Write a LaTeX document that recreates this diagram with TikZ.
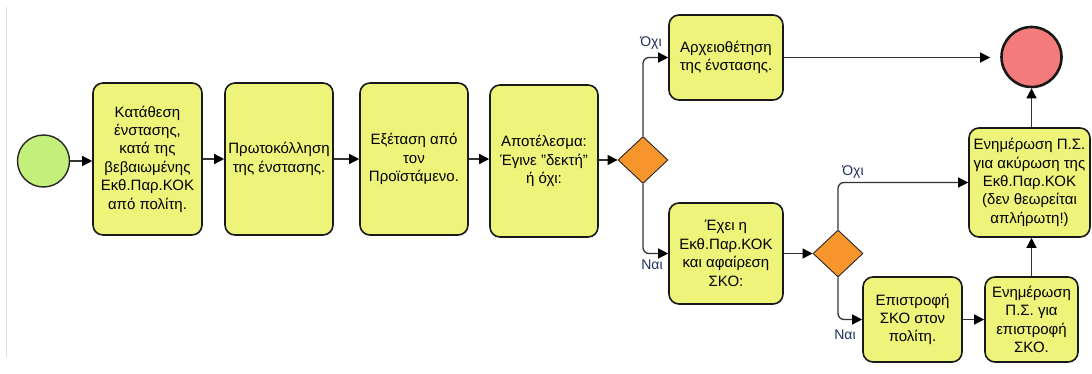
\documentclass[tikz,border=0pt]{standalone}
\usepackage{fontspec}
\setmainfont{Liberation Sans}
\usetikzlibrary{arrows.meta,shapes.geometric}
\definecolor{boxfill}{RGB}{238,243,122}
\definecolor{startfill}{RGB}{195,240,122}
\definecolor{endfill}{RGB}{244,123,123}
\definecolor{gatefill}{RGB}{247,150,45}
\definecolor{linec}{RGB}{51,51,51}
\definecolor{labc}{RGB}{30,50,90}
\tikzset{
  taskbox/.style={draw=black!90, line width=1.6pt, fill=boxfill, rounded corners=10pt,
    inner sep=0pt, align=center, font=\fontsize{15}{18.4}\selectfont},
  gate/.style={draw=black!85, line width=0.9pt, fill=gatefill, diamond, inner sep=0pt,
    minimum width=50pt, minimum height=47pt},
  flow/.style={draw=linec, line width=1.3pt, -{Triangle[length=10pt,width=10pt,color=black]}},
  lab/.style={text=labc, font=\fontsize{14}{16}\selectfont, inner sep=0pt}
}
\begin{document}
\begin{tikzpicture}[x=1pt,y=-1pt]
\useasboundingbox (0,0) rectangle (1092,374);
\fill[white] (0,0) rectangle (1092,374);
\draw[gray!25, line width=0.8pt] (6,7) -- (6,357);

\node[circle, draw=black!85, line width=1.4pt, fill=startfill, minimum size=52pt, inner sep=0pt] (start) at (43.5,161) {};
\node[circle, draw=black!90, line width=2.6pt, fill=endfill, minimum size=60pt, inner sep=0pt] (end) at (1031.5,57) {};

\node[taskbox, minimum width=109pt, minimum height=152pt] (b1) at (147.5,159) {Κατάθεση\\ένστασης,\\κατά της\\βεβαιωμένης\\Εκθ.Παρ.ΚΟΚ\\από πολίτη.};
\node[taskbox, minimum width=108pt, minimum height=152pt] (b2) at (279,159) {Πρωτοκόλληση\\της ένστασης.};
\node[taskbox, minimum width=108pt, minimum height=152pt] (b3) at (414,159) {Εξέταση από\\τον\\Προϊστάμενο.};
\node[taskbox, minimum width=108pt, minimum height=152pt] (b4) at (544,161) {Αποτέλεσμα:\\Έγινε "δεκτή"\\ή όχι:};
\node[gate] (d1) at (643,160) {};
\node[taskbox, minimum width=114pt, minimum height=85pt] (arch) at (726,57.5) {Αρχειοθέτηση\\της ένστασης.};
\node[taskbox, minimum width=114pt, minimum height=101pt] (exei) at (726,253.5) {Έχει η\\Εκθ.Παρ.ΚΟΚ\\και αφαίρεση\\ΣΚΟ:};
\node[gate] (d2) at (838,253.5) {};
\node[taskbox, minimum width=99pt, minimum height=85pt] (epi) at (912.5,319.5) {Επιστροφή\\ΣΚΟ στον\\πολίτη.};
\node[taskbox, minimum width=93pt, minimum height=85pt] (enh) at (1031.5,319.5) {Ενημέρωση\\Π.Σ. για\\επιστροφή\\ΣΚΟ.};
\node[taskbox, minimum width=121pt, minimum height=109pt] (upd) at (1029.5,182.5) {Ενημέρωση Π.Σ.\\για ακύρωση της\\Εκθ.Παρ.ΚΟΚ\\(δεν θεωρείται\\απλήρωτη!)};

\draw[flow] (start.east) -- (start.east -| b1.west);
\draw[flow] (b1.east) -- (b2.west);
\draw[flow] (b2.east) -- (b3.west);
\draw[flow] (b3.east) -- (b3.east -| b4.west);
\draw[flow] (b4.east |- d1.west) -- (d1.west);
\draw[flow, rounded corners=6pt] (d1.north) |- (arch.west);
\draw[flow, rounded corners=6pt] (d1.south) |- (exei.west);
\draw[flow, shorten >=10pt] (arch.east) -- (arch.east -| end.west);
\draw[flow] (exei.east) -- (d2.west);
\draw[flow, rounded corners=6pt] (d2.north) |- (upd.west);
\draw[flow, rounded corners=6pt] (d2.south) |- (epi.west);
\draw[flow] (epi.east) -- (enh.west);
\draw[flow] (enh.north) -- (enh.north |- upd.south);
\draw[flow] (end.south |- upd.north) -- (end.south);

\node[lab] (l1) at (651,43) {Όχι};
\node[lab] (l2) at (652,265) {Ναι};
\node[lab] (l3) at (853,172) {Όχι};
\node[lab] (l4) at (845,335) {Ναι};
\end{tikzpicture}
\end{document}
